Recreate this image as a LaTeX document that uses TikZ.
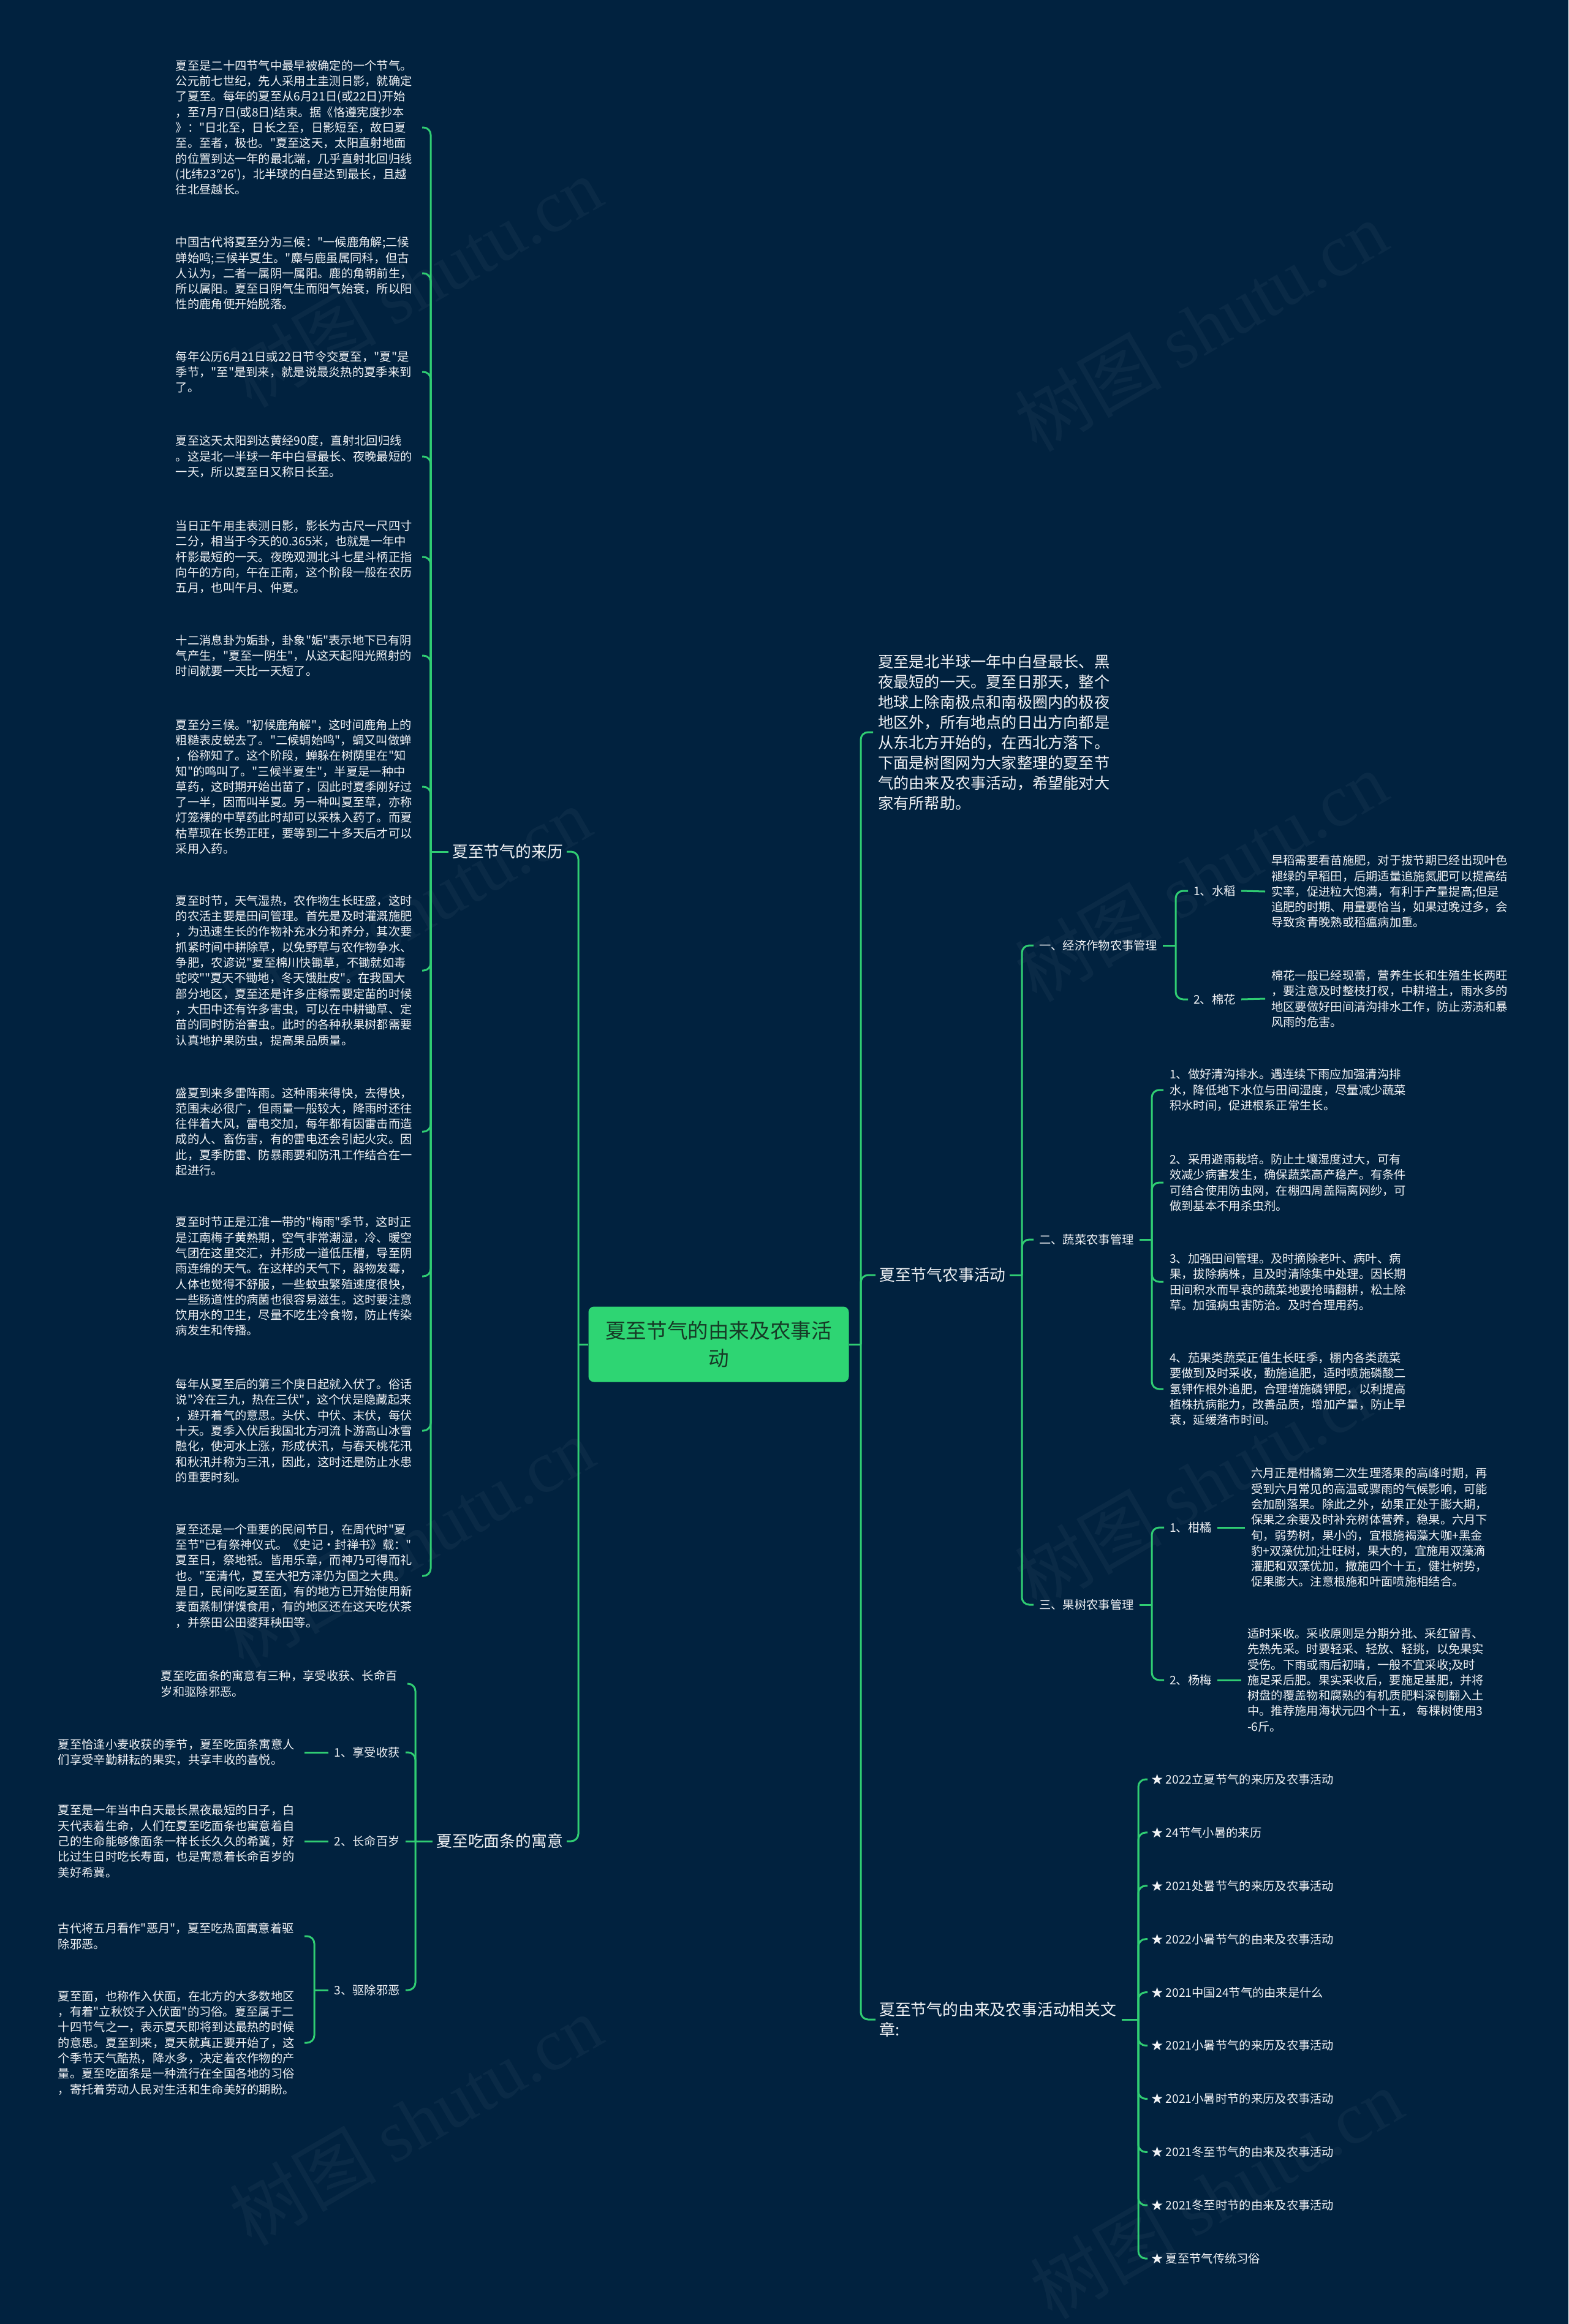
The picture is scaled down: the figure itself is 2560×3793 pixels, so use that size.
\documentclass[tikz,border=0pt]{standalone}
\usepackage{fontspec}
\setmainfont{Noto Sans CJK SC}[Ligatures=TeXOff]
\newfontfamily\wmlatin{Liberation Serif}
\usepackage{tikz}
\usetikzlibrary{positioning,calc}
\definecolor{BgNavy}{RGB}{1,34,63}
\definecolor{LineGreen}{RGB}{48,205,115}
\definecolor{RootGreen}{RGB}{46,213,115}
\definecolor{RootText}{RGB}{22,58,38}
\definecolor{LeafText}{RGB}{240,242,245}
\newcommand{\leaffont}{\fontsize{19.3}{25.3}\selectfont}

\begin{document}
\begin{tikzpicture}[x=1pt, y=-1pt,
    link/.style={draw=LineGreen, line width=3pt, rounded corners=12pt},
    rootbox/.style={rectangle, rounded corners=9pt, fill=RootGreen, text=RootText,
        minimum width=425pt, minimum height=123pt, text width=380pt, align=center,
        inner sep=0pt, font=\fontsize{33.6}{45}\selectfont},
    branch/.style={text=LeafText, inner xsep=6pt, inner ysep=3pt, font=\fontsize{25.8}{33}\selectfont},
    introbox/.style={text=LeafText, text width=385pt, align=left, inner xsep=8pt, inner ysep=2pt,
        font=\fontsize{25.2}{33}\selectfont},
    sublabel/.style={text=LeafText, inner xsep=9pt, inner ysep=3pt, font=\leaffont},
    leaf/.style={text=LeafText, text width=392pt, align=left, inner xsep=10pt, inner ysep=2pt, font=\leaffont},
    article/.style={text=LeafText, inner xsep=6pt, font=\leaffont},
    wmark/.style={text=white, text opacity=0.04, rotate=30, font=\fontsize{120}{120}\selectfont},
]
\fill[BgNavy] (0,0) rectangle (2560,3793);
\useasboundingbox (0,0) rectangle (2560,3793);

% watermarks
\foreach \x/\y [count=\k] in {678/460, 1960/532, 660/1488, 1960/1430, 665/2517, 1960/2420, 678/3460, 1985/3580}
    \node[wmark] (wm\k) at (\x,\y) {树图 {\wmlatin shutu.cn}};

% root
\node[rootbox] (root) at (1173,2194) {夏至节气的由来及农事活\\动};

% ---------- left side ----------
\coordinate (trunkL) at (944,2194);
\node[branch, anchor=east] (origin) at (925,1390) {夏至节气的来历};
\node[branch, anchor=east] (noodle) at (925,3005) {夏至吃面条的寓意};
\draw[link] (root.west) -- (trunkL);
\draw[link] (trunkL) |- (origin.east);
\draw[link] (trunkL) |- (noodle.east);

% origin of the solar term
\coordinate (spineO) at (703,1390);
\draw[link] (origin.west) -- (spineO);
\node[leaf, anchor=east] (o1) at (689,208) {夏至是二十四节气中最早被确定的一个节气。\\公元前七世纪，先人采用土圭测日影，就确定\\了夏至。每年的夏至从6月21日(或22日)开始\\，至7月7日(或8日)结束。据《恪遵宪度抄本\\》："日北至，日长之至，日影短至，故曰夏\\至。至者，极也。"夏至这天，太阳直射地面\\的位置到达一年的最北端，几乎直射北回归线\\(北纬23°26')，北半球的白昼达到最长，且越\\往北昼越长。};
\node[leaf, anchor=east] (o2) at (689,446) {中国古代将夏至分为三候："一候鹿角解;二候\\蝉始鸣;三候半夏生。"麋与鹿虽属同科，但古\\人认为，二者一属阴一属阳。鹿的角朝前生，\\所以属阳。夏至日阴气生而阳气始衰，所以阳\\性的鹿角便开始脱落。};
\node[leaf, anchor=east] (o3) at (689,607) {每年公历6月21日或22日节令交夏至，"夏"是\\季节，"至"是到来，就是说最炎热的夏季来到\\了。};
\node[leaf, anchor=east] (o4) at (689,745) {夏至这天太阳到达黄经90度，直射北回归线\\。这是北一半球一年中白昼最长、夜晚最短的\\一天，所以夏至日又称日长至。};
\node[leaf, anchor=east] (o5) at (689,909) {当日正午用圭表测日影，影长为古尺一尺四寸\\二分，相当于今天的0.365米，也就是一年中\\杆影最短的一天。夜晚观测北斗七星斗柄正指\\向午的方向，午在正南，这个阶段一般在农历\\五月，也叫午月、仲夏。};
\node[leaf, anchor=east] (o6) at (689,1070) {十二消息卦为姤卦，卦象"姤"表示地下已有阴\\气产生，"夏至一阴生"，从这天起阳光照射的\\时间就要一天比一天短了。};
\node[leaf, anchor=east] (o7) at (689,1284) {夏至分三候。"初候鹿角解"，这时间鹿角上的\\粗糙表皮蜕去了。"二候蜩始鸣"，蜩又叫做蝉\\，俗称知了。这个阶段，蝉躲在树荫里在"知\\知"的鸣叫了。"三候半夏生"，半夏是一种中\\草药，这时期开始出苗了，因此时夏季刚好过\\了一半，因而叫半夏。另一种叫夏至草，亦称\\灯笼裸的中草药此时却可以采株入药了。而夏\\枯草现在长势正旺，要等到二十多天后才可以\\采用入药。};
\node[leaf, anchor=east] (o8) at (689,1584) {夏至时节，天气湿热，农作物生长旺盛，这时\\的农活主要是田间管理。首先是及时灌溉施肥\\，为迅速生长的作物补充水分和养分，其次要\\抓紧时间中耕除草，以免野草与农作物争水、\\争肥，农谚说"夏至棉川快锄草，不锄就如毒\\蛇咬""夏天不锄地，冬天饿肚皮"。在我国大\\部分地区，夏至还是许多庄稼需要定苗的时候\\，大田中还有许多害虫，可以在中耕锄草、定\\苗的同时防治害虫。此时的各种秋果树都需要\\认真地护果防虫，提高果品质量。};
\node[leaf, anchor=east] (o9) at (689,1847) {盛夏到来多雷阵雨。这种雨来得快，去得快，\\范围未必很广，但雨量一般较大，降雨时还往\\往伴着大风，雷电交加，每年都有因雷击而造\\成的人、畜伤害，有的雷电还会引起火灾。因\\此，夏季防雷、防暴雨要和防汛工作结合在一\\起进行。};
\node[leaf, anchor=east] (o10) at (689,2083) {夏至时节正是江淮一带的"梅雨"季节，这时正\\是江南梅子黄熟期，空气非常潮湿，冷、暖空\\气团在这里交汇，并形成一道低压槽，导至阴\\雨连绵的天气。在这样的天气下，器物发霉，\\人体也觉得不舒服，一些蚊虫繁殖速度很快，\\一些肠道性的病菌也很容易滋生。这时要注意\\饮用水的卫生，尽量不吃生冷食物，防止传染\\病发生和传播。};
\node[leaf, anchor=east] (o11) at (689,2335) {每年从夏至后的第三个庚日起就入伏了。俗话\\说"冷在三九，热在三伏"，这个伏是隐藏起来\\，避开着气的意思。头伏、中伏、末伏，每伏\\十天。夏季入伏后我国北方河流卜游高山冰雪\\融化，使河水上涨，形成伏汛，与春天桃花汛\\和秋汛并称为三汛，因此，这时还是防止水患\\的重要时刻。};
\node[leaf, anchor=east] (o12) at (689,2572) {夏至还是一个重要的民间节日，在周代时"夏\\至节"已有祭神仪式。《史记·封禅书》载："\\夏至日，祭地祇。皆用乐章，而神乃可得而礼\\也。"至清代，夏至大祀方泽仍为国之大典。\\是日，民间吃夏至面，有的地方已开始使用新\\麦面蒸制饼馍食用，有的地区还在这天吃伏茶\\，并祭田公田婆拜秧田等。};
\foreach \i in {1,...,12}
    \draw[link] (spineO) |- (o\i.east);

% noodles
\coordinate (spineN) at (678,3005);
\draw[link] (noodle.west) -- (spineN);
\node[leaf, anchor=east] (n0) at (665,2748) {夏至吃面条的寓意有三种，享受收获、长命百\\岁和驱除邪恶。};
\node[sublabel, anchor=east] (n1) at (662,2860) {1、享受收获};
\node[sublabel, anchor=east] (n2) at (662,3005) {2、长命百岁};
\node[sublabel, anchor=east] (n3) at (662,3248) {3、驱除邪恶};
\draw[link] (spineN) |- (n0.east);
\draw[link] (spineN) |- (n1.east);
\draw[link] (spineN) -- (n2.east);
\draw[link] (spineN) |- (n3.east);
\node[leaf, anchor=east] (n1a) at (497,2860) {夏至恰逢小麦收获的季节，夏至吃面条寓意人\\们享受辛勤耕耘的果实，共享丰收的喜悦。};
\node[leaf, anchor=east] (n2a) at (497,3005) {夏至是一年当中白天最长黑夜最短的日子，白\\天代表着生命，人们在夏至吃面条也寓意着自\\己的生命能够像面条一样长长久久的希冀，好\\比过生日时吃长寿面，也是寓意着长命百岁的\\美好希冀。};
\draw[link] (n1.west) -- (n1a.east);
\draw[link] (n2.west) -- (n2a.east);
\coordinate (spineN3) at (513,3248);
\draw[link] (n3.west) -- (spineN3);
\node[leaf, anchor=east] (n3a) at (497,3160) {古代将五月看作"恶月"，夏至吃热面寓意着驱\\除邪恶。};
\node[leaf, anchor=east] (n3b) at (497,3334) {夏至面，也称作入伏面，在北方的大多数地区\\，有着"立秋饺子入伏面"的习俗。夏至属于二\\十四节气之一，表示夏天即将到达最热的时候\\的意思。夏至到来，夏天就真正要开始了，这\\个季节天气酷热，降水多，决定着农作物的产\\量。夏至吃面条是一种流行在全国各地的习俗\\，寄托着劳动人民对生活和生命美好的期盼。};
\draw[link] (spineN3) |- (n3a.east);
\draw[link] (spineN3) |- (n3b.east);

% ---------- right side ----------
\coordinate (trunkR) at (1405,2194);
\draw[link] (root.east) -- (trunkR);
\node[introbox, anchor=west] (intro) at (1425,1195) {夏至是北半球一年中白昼最长、黑\\夜最短的一天。夏至日那天，整个\\地球上除南极点和南极圈内的极夜\\地区外，所有地点的日出方向都是\\从东北方开始的，在西北方落下。\\下面是树图网为大家整理的夏至节\\气的由来及农事活动，希望能对大\\家有所帮助。};
\node[branch, anchor=west] (farm) at (1429,2081) {夏至节气农事活动};
\node[branch, anchor=west, text width=390pt, align=left] (related) at (1429,3296) {夏至节气的由来及农事活动相关文\\章:};
\draw[link] (trunkR) |- (intro.west);
\draw[link] (trunkR) |- (farm.west);
\draw[link] (trunkR) |- (related.west);

% farm work
\coordinate (spineF) at (1668,2081);
\draw[link] (farm.east) -- (spineF);
\node[sublabel, anchor=west] (crop) at (1687,1543) {一、经济作物农事管理};
\node[sublabel, anchor=west] (veg) at (1687,2023) {二、蔬菜农事管理};
\node[sublabel, anchor=west] (fruit) at (1687,2619) {三、果树农事管理};
\draw[link] (spineF) |- (crop.west);
\draw[link] (spineF) |- (veg.west);
\draw[link] (spineF) |- (fruit.west);

% cash crops
\coordinate (spineC) at (1919,1543);
\draw[link] (crop.east) -- (spineC);
\node[sublabel, anchor=west] (rice) at (1939,1454) {1、水稻};
\node[sublabel, anchor=west] (cotton) at (1939,1631) {2、棉花};
\draw[link] (spineC) |- (rice.west);
\draw[link] (spineC) |- (cotton.west);
\node[leaf, anchor=west] (riceT) at (2065,1455) {早稻需要看苗施肥，对于拔节期已经出现叶色\\褪绿的早稻田，后期适量追施氮肥可以提高结\\实率，促进粒大饱满，有利于产量提高;但是\\追肥的时期、用量要恰当，如果过晚过多，会\\导致贪青晚熟或稻瘟病加重。};
\node[leaf, anchor=west] (cottonT) at (2065,1630) {棉花一般已经现蕾，营养生长和生殖生长两旺\\，要注意及时整枝打杈，中耕培土，雨水多的\\地区要做好田间清沟排水工作，防止涝渍和暴\\风雨的危害。};
\draw[link] (rice.east) -- (riceT.west);
\draw[link] (cotton.east) -- (cottonT.west);

% vegetables
\coordinate (spineV) at (1880,2023);
\draw[link] (veg.east) -- (spineV);
\node[leaf, anchor=west] (v1) at (1899,1779) {1、做好清沟排水。遇连续下雨应加强清沟排\\水，降低地下水位与田间湿度，尽量减少蔬菜\\积水时间，促进根系正常生长。};
\node[leaf, anchor=west] (v2) at (1899,1930) {2、采用避雨栽培。防止土壤湿度过大，可有\\效减少病害发生，确保蔬菜高产稳产。有条件\\可结合使用防虫网，在棚四周盖隔离网纱，可\\做到基本不用杀虫剂。};
\node[leaf, anchor=west] (v3) at (1899,2092) {3、加强田间管理。及时摘除老叶、病叶、病\\果，拔除病株，且及时清除集中处理。因长期\\田间积水而早衰的蔬菜地要抢晴翻耕，松土除\\草。加强病虫害防治。及时合理用药。};
\node[leaf, anchor=west] (v4) at (1899,2267) {4、茄果类蔬菜正值生长旺季，棚内各类蔬菜\\要做到及时采收，勤施追肥，适时喷施磷酸二\\氢钾作根外追肥，合理增施磷钾肥，以利提高\\植株抗病能力，改善品质，增加产量，防止早\\衰，延缓落市时间。};
\foreach \i in {1,...,4}
    \draw[link] (spineV) |- (v\i.west);

% fruit trees
\coordinate (spineG) at (1880,2619);
\draw[link] (fruit.east) -- (spineG);
\node[sublabel, anchor=west] (orange) at (1900,2493) {1、柑橘};
\node[sublabel, anchor=west] (berry) at (1900,2742) {2、杨梅};
\draw[link] (spineG) |- (orange.west);
\draw[link] (spineG) |- (berry.west);
\node[leaf, anchor=west] (orangeT) at (2032,2493) {六月正是柑橘第二次生理落果的高峰时期，再\\受到六月常见的高温或骤雨的气候影响，可能\\会加剧落果。除此之外，幼果正处于膨大期，\\保果之余要及时补充树体营养，稳果。六月下\\旬，弱势树，果小的，宜根施褐藻大咖+黑金\\豹+双藻优加;壮旺树，果大的，宜施用双藻滴\\灌肥和双藻优加，撒施四个十五，健壮树势，\\促果膨大。注意根施和叶面喷施相结合。};
\node[leaf, anchor=west] (berryT) at (2026,2742) {适时采收。采收原则是分期分批、采红留青、\\先熟先采。时要轻采、轻放、轻挑，以免果实\\受伤。下雨或雨后初晴，一般不宜采收;及时\\施足采后肥。果实采收后，要施足基肥，并将\\树盘的覆盖物和腐熟的有机质肥料深刨翻入土\\中。推荐施用海状元四个十五， 每棵树使用3\\-6斤。};
\draw[link] (orange.east) -- (orangeT.west);
\draw[link] (berry.east) -- (berryT.west);

% related articles
\coordinate (spineR) at (1858,3296);
\draw[link] (related.east) -- (spineR);
\foreach \t [count=\i] in {2022立夏节气的来历及农事活动, 24节气小暑的来历, 2021处暑节气的来历及农事活动,
    2022小暑节气的由来及农事活动, 2021中国24节气的由来是什么, 2021小暑节气的来历及农事活动,
    2021小暑时节的来历及农事活动, 2021冬至节气的由来及农事活动, 2021冬至时节的由来及农事活动, 夏至节气传统习俗} {
    \node[article, anchor=west] (a\i) at (1873,{2904+(\i-1)*86.9}) {★ \t};
    \draw[link] (spineR) |- (a\i.west);
}
\end{tikzpicture}
\end{document}
